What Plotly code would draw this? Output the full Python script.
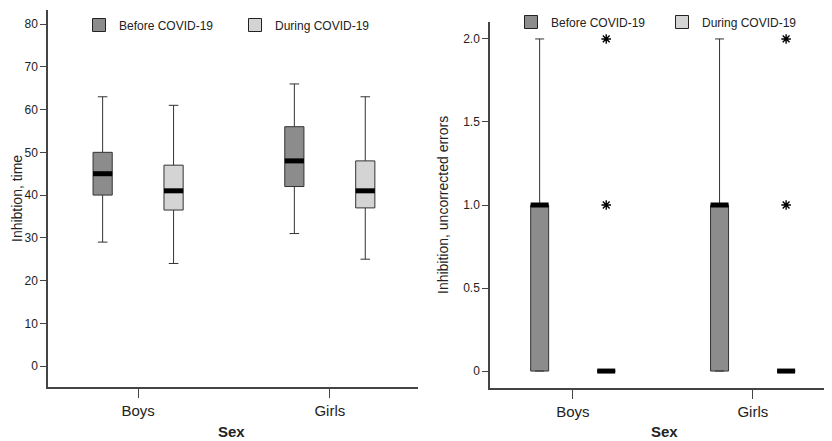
import plotly.graph_objects as go

groups = ["Boys", "Girls"]
series = ["Before COVID-19", "During COVID-19"]
fill_colors = ["#8c8c8c", "#d4d4d4"]

# Panel 1: Inhibition, time
time_before_low = [29, 31]
time_before_q1 = [40, 42]
time_before_med = [45, 48]
time_before_q3 = [50, 56]
time_before_high = [63, 66]

time_during_low = [24, 25]
time_during_q1 = [36.5, 37]
time_during_med = [41, 41]
time_during_q3 = [47, 48]
time_during_high = [61, 63]

# Panel 2: Inhibition, uncorrected errors
err_before_low = [0, 0]
err_before_q1 = [0, 0]
err_before_med = [1, 1]
err_before_q3 = [1, 1]
err_before_high = [2, 2]

err_during_low = [0, 0]
err_during_q1 = [0, 0]
err_during_med = [0, 0]
err_during_q3 = [0, 0]
err_during_high = [0, 0]
err_during_outliers = [[1, 2], [1, 2]]

time_ticks = [0, 10, 20, 30, 40, 50, 60, 70, 80]
err_ticks = [0, 0.5, 1.0, 1.5, 2.0]
err_ticktext = ["0", "0.5", "1.0", "1.5", "2.0"]

FONT = "Arial, Liberation Sans, sans-serif"
# page body has an 8px margin; the figure fills the rest of the 832x441 window
PAD = 8
W, H = 832 - PAD, 441 - PAD


def px(X):
    return (X - PAD) / W


def py(Y):
    return (441 - Y) / H


offset = 0.185
bw = 0.1

fig = go.Figure()

panels = [
    dict(xa="x", ya="y", legend="legend",
         stats=[(time_before_low, time_before_q1, time_before_med, time_before_q3, time_before_high),
                (time_during_low, time_during_q1, time_during_med, time_during_q3, time_during_high)],
         px_per_unit=192),
    dict(xa="x2", ya="y2", legend="legend2",
         stats=[(err_before_low, err_before_q1, err_before_med, err_before_q3, err_before_high),
                (err_during_low, err_during_q1, err_during_med, err_during_q3, err_during_high)],
         px_per_unit=180),
]

for p in panels:
    for si, (lo, q1, med, q3, hi) in enumerate(p["stats"]):
        xs = [gi + (-offset if si == 0 else offset) for gi in range(len(groups))]
        fig.add_trace(go.Box(
            x=xs, q1=q1, median=med, q3=q3, lowerfence=lo, upperfence=hi,
            width=bw, whiskerwidth=0.5, fillcolor=fill_colors[si],
            line=dict(color="#333333", width=1), showlegend=False,
            hoverinfo="skip", xaxis=p["xa"], yaxis=p["ya"], boxpoints=False,
        ))
        fig.add_trace(go.Scatter(
            x=xs, y=med, mode="markers",
            marker=dict(symbol="line-ew", size=bw * p["px_per_unit"] / 1.4,
                        line=dict(color="black", width=5)),
            showlegend=False, hoverinfo="skip", xaxis=p["xa"], yaxis=p["ya"],
        ))
        # legend entries
        fig.add_trace(go.Scatter(
            x=[None], y=[None], mode="markers", name=series[si],
            marker=dict(symbol="square", size=13, color=fill_colors[si],
                        line=dict(color="#222222", width=1)),
            legend=p["legend"], xaxis=p["xa"], yaxis=p["ya"],
        ))

# outliers (extreme values) for errors during COVID
ox, oy = [], []
for gi, vals in enumerate(err_during_outliers):
    for v in vals:
        ox.append(gi + offset)
        oy.append(v)
fig.add_trace(go.Scatter(
    x=ox, y=oy, mode="markers",
    marker=dict(symbol="asterisk-open", size=8, color="black",
                line=dict(color="black", width=1.4)),
    showlegend=False, hoverinfo="skip", xaxis="x2", yaxis="y2",
))

axis_common = dict(showgrid=False, zeroline=False, showline=True, linecolor="#444444",
                   linewidth=1.5, ticks="outside", tickcolor="#444444", automargin=False)
ytickfont = dict(family=FONT, size=12, color="#222222")
xtickfont = dict(family=FONT, size=15, color="#222222")

fig.update_layout(
    width=W, height=H, margin=dict(l=0, r=0, t=0, b=0, autoexpand=False),
    paper_bgcolor="white", plot_bgcolor="white",
    font=dict(family=FONT, color="#222222"),
    xaxis=dict(domain=[px(48), px(418)], range=[-0.47, 1.46], tickvals=[0, 1], ticktext=groups,
               ticklen=9, tickfont=xtickfont, **axis_common),
    yaxis=dict(domain=[py(387), py(10)], range=[-4.9, 83.3], tickvals=time_ticks,
               ticklen=6, tickfont=ytickfont, **axis_common),
    xaxis2=dict(domain=[px(490), 1.0], range=[-0.461, 1.44], tickvals=[0, 1], ticktext=groups,
                ticklen=9, anchor="y2", tickfont=xtickfont, **axis_common),
    yaxis2=dict(domain=[py(388), py(22)], range=[-0.102, 2.102], tickvals=err_ticks,
                ticktext=err_ticktext, ticklen=6, anchor="x2", tickfont=ytickfont,
                **axis_common),
    legend=dict(orientation="h", x=px(99) - 20 / W, xanchor="left", y=py(25), yanchor="middle",
                font=dict(size=12, family=FONT), entrywidth=111, entrywidthmode="pixels",
                bgcolor="rgba(0,0,0,0)"),
    legend2=dict(orientation="h", x=px(531) - 20 / W, xanchor="left", y=py(22), yanchor="middle",
                 font=dict(size=12, family=FONT), entrywidth=106, entrywidthmode="pixels",
                 bgcolor="rgba(0,0,0,0)"),
    annotations=[
        dict(text="Inhibtion, time", textangle=-90, x=px(17), y=py(199), xref="paper",
             yref="paper", xanchor="center", yanchor="middle", showarrow=False,
             font=dict(size=14, family=FONT, color="#222222")),
        dict(text="Inhibition, uncorrected errors", textangle=-90, x=px(443), y=py(205),
             xref="paper", yref="paper", xanchor="center", yanchor="middle", showarrow=False,
             font=dict(size=14, family=FONT, color="#222222")),
        dict(text="<b>Sex</b>", x=px(231), y=py(431), xref="paper", yref="paper",
             xanchor="center", yanchor="middle", showarrow=False, borderpad=0,
             font=dict(size=15, family=FONT, color="#222222")),
        dict(text="<b>Sex</b>", x=px(664), y=py(431), xref="paper", yref="paper",
             xanchor="center", yanchor="middle", showarrow=False, borderpad=0,
             font=dict(size=15, family=FONT, color="#222222")),
    ],
)

fig.write_html("out.html")
